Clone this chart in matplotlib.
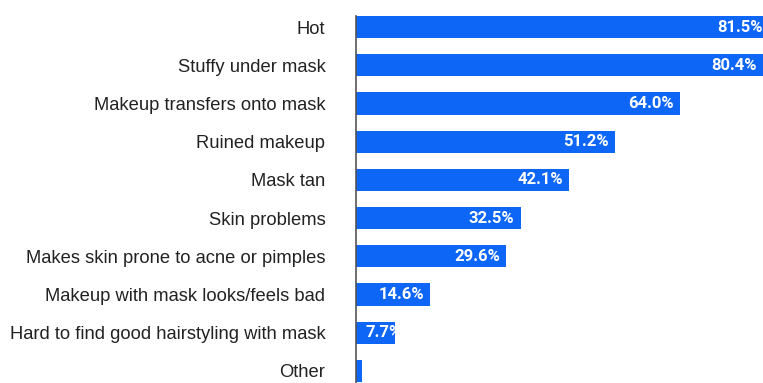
import matplotlib.pyplot as plt

categories = ["Hot", "Stuffy under mask", "Makeup transfers onto mask", "Ruined makeup",
              "Mask tan", "Skin problems", "Makes skin prone to acne or pimples",
              "Makeup with mask looks/feels bad", "Hard to find good hairstyling with mask",
              "Other"]
values = [81.5, 80.4, 64.0, 51.2, 42.1, 32.5, 29.6, 14.6, 7.7, 1.2]
value_labels = ["81.5%", "80.4%", "64.0%", "51.2%", "42.1%", "32.5%", "29.6%", "14.6%", "7.7%", ""]

fig = plt.figure(figsize=(7.63, 3.83), dpi=100)
ax = fig.add_axes([0.4666, -0.018, 0.5334, 0.997])

ypos = list(range(len(categories)))
bars = ax.barh(ypos, values, height=0.58, color="#0d66f6")
ax.set_ylim(len(categories) - 0.5, -0.5)
ax.set_xlim(0, 80.4)

ax.set_yticks(ypos)
ax.set_yticklabels(categories, fontsize=13.2, family="Liberation Sans", color="#222222")
ax.tick_params(axis="y", length=0, pad=22)
ax.set_xticks([])

for s in ["top", "right", "bottom"]:
    ax.spines[s].set_visible(False)
ax.spines["left"].set_color("#555555")
ax.spines["left"].set_linewidth(1.2)
ax.spines["left"].set_bounds(-0.3, len(categories) - 0.5)

for bar, y, v, lab in zip(bars, ypos, values, value_labels):
    if not lab:
        continue
    if v < 10:
        # short bar: label starts near the base and gets cut by the bar end
        t = ax.annotate(lab, xy=(0, y), xytext=(6.5, 0), textcoords="offset points",
                        ha="left", va="center", color="white", fontsize=12,
                        fontweight="bold", family="Roboto")
    else:
        t = ax.annotate(lab, xy=(v, y), xytext=(-4.3, 0), textcoords="offset points",
                        ha="right", va="center", color="white", fontsize=12,
                        fontweight="bold", family="Roboto", annotation_clip=False)
    t.set_clip_path(bar)

fig.savefig("out.png", dpi=100)
